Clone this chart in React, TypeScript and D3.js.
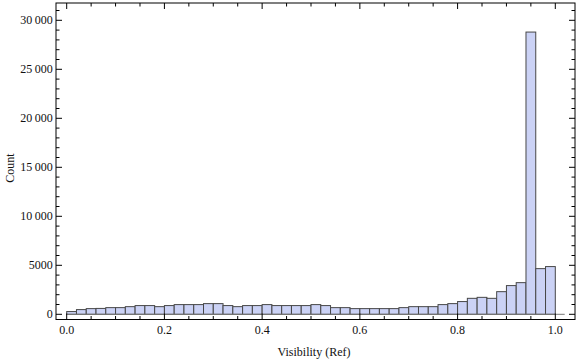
import * as d3 from 'd3'

// histogram of Visibility (Ref), bins of width 0.02 starting at 0
const binWidth = 0.02
const counts = [
  280, 480, 580, 600, 680, 680, 780, 890, 890, 780,
  890, 990, 990, 990, 1090, 1090, 890, 780, 890, 890,
  990, 890, 890, 890, 890, 990, 890, 680, 680, 580,
  580, 580, 580, 580, 680, 780, 780, 780, 990, 1090,
  1300, 1630, 1730, 1630, 2310, 2930, 3230, 28800, 4660, 4870,
]
const xMajor = [0, 0.2, 0.4, 0.6, 0.8, 1.0]
const xMinor = d3.range(0, 21).map(i => i * 0.05)
const yMajor = [0, 5000, 10000, 15000, 20000, 25000, 30000]
const yMinor = d3.range(0, 32).map(i => i * 1000)

const W = 576
const H = 361
const frame = { left: 56, right: 575, top: 3, bottom: 319.5 }
const font = "'Liberation Serif', 'Times New Roman', serif"

const fmtY = (v: number) => v >= 10000 ? `${Math.floor(v / 1000)}\u2009${String(v % 1000).padStart(3, '0')}` : `${v}`

export default function App() {
  const x = d3.scaleLinear().domain([0, 1]).range([66.7, 555.3])
  const y = d3.scaleLinear().domain([0, 30000]).range([314.3, 20.3])

  const major = 6
  const minor = 3.5
  const textStyle = { fontFamily: font, fontSize: '12px' }

  return (
    <svg width={W} height={H} style={{ position: 'absolute', left: 0, top: 0, background: '#fff' }}>
      {/* bars */}
      {counts.map((c, i) => (
        <rect key={i}
          x={x(i * binWidth)} y={y(c)}
          width={x((i + 1) * binWidth) - x(i * binWidth)}
          height={y(0) - y(c)}
          fill="#cbd2f5" stroke="#474747" strokeWidth={1} />
      ))}
      {/* zero axis */}
      <line x1={x(0)} x2={564.7} y1={y(0)} y2={y(0)} stroke="#777" strokeWidth={1} />

      {/* frame */}
      <rect x={frame.left} y={frame.top} width={frame.right - frame.left} height={frame.bottom - frame.top}
        fill="none" stroke="#000" strokeWidth={1} />

      {/* x ticks, bottom and top */}
      {xMinor.map((v, i) => {
        const isMajor = xMajor.some(m => Math.abs(m - v) < 1e-9)
        const len = isMajor ? major : minor
        return (
          <g key={'xt' + i} stroke="#000" strokeWidth={1}>
            <line x1={x(v)} x2={x(v)} y1={frame.bottom} y2={frame.bottom - len} />
            <line x1={x(v)} x2={x(v)} y1={frame.top} y2={frame.top + len} />
          </g>
        )
      })}
      {xMajor.map((v, i) => (
        <text key={'xl' + i} x={x(v)} y={334} textAnchor="middle" style={textStyle} fill="#111">
          {v.toFixed(1)}
        </text>
      ))}

      {/* y ticks, left and right */}
      {yMinor.map((v, i) => {
        const isMajor = v % 5000 === 0
        const len = isMajor ? major : minor
        return (
          <g key={'yt' + i} stroke="#000" strokeWidth={1}>
            <line x1={frame.left} x2={frame.left + len} y1={y(v)} y2={y(v)} />
            <line x1={frame.right} x2={frame.right - len} y1={y(v)} y2={y(v)} />
          </g>
        )
      })}
      {yMajor.map((v, i) => (
        <text key={'yl' + i} x={52.7} y={y(v) + 4} textAnchor="end" style={textStyle} fill="#111">
          {fmtY(v)}
        </text>
      ))}

      {/* axis titles */}
      <text x={314} y={356} textAnchor="middle" style={textStyle} fill="#111">Visibility (Ref)</text>
      <text transform="translate(14,168) rotate(-90)" textAnchor="middle" style={textStyle} fill="#111">Count</text>
    </svg>
  )
}
